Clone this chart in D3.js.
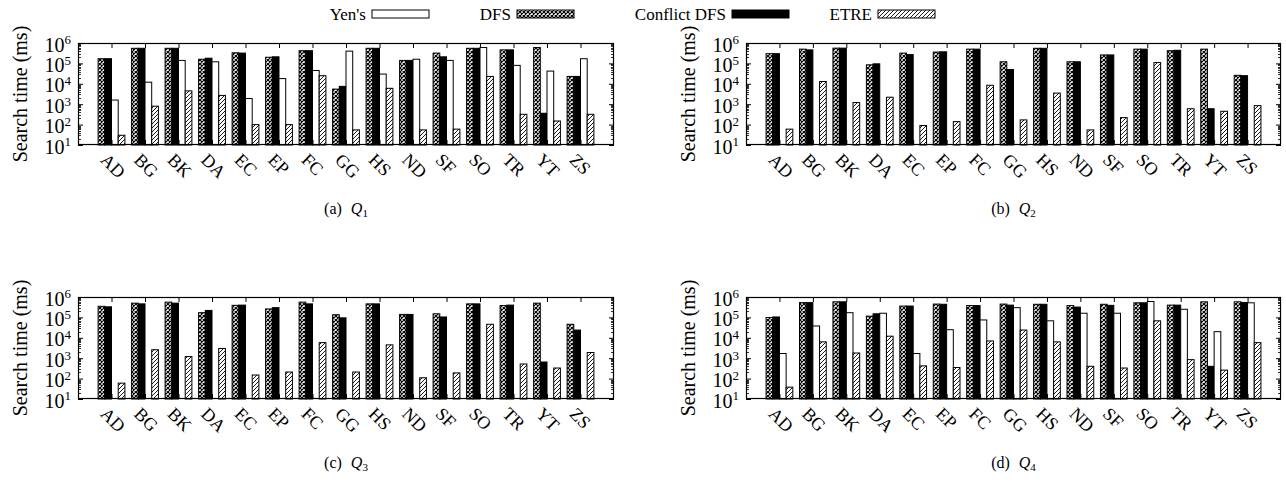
<!DOCTYPE html>
<html>
<head>
<meta charset="utf-8">
<script src="https://cdn.jsdelivr.net/npm/d3@7"></script>
<style>
body { margin: 0; background: #fff; }
text { font-family: "Liberation Serif", "Times New Roman", serif; fill: #000; }
</style>
</head>
<body>
<svg id="chart" width="1286" height="493"></svg>
<script>
// datasets on the x axis
var datasets = ["AD","BG","BK","DA","EC","EP","FC","GG","HS","ND","SF","SO","TR","YT","ZS"];
var seriesNames = ["DFS","Conflict DFS","Yen's","ETRE"];
var yTickValues = [1e1,1e2,1e3,1e4,1e5,1e6];

// search time (ms), null = no bar
var q1_dfs  = [1.7e5,5.5e5,5.5e5,1.6e5,3.3e5,2.0e5,4.2e5,5.5e3,5.5e5,1.4e5,3.2e5,5.5e5,4.6e5,6.0e5,2.3e4];
var q1_cdfs = [1.7e5,5.5e5,5.5e5,1.8e5,3.2e5,2.1e5,4.2e5,7.5e3,5.5e5,1.4e5,2.1e5,5.5e5,4.6e5,360,2.3e4];
var q1_yen  = [1.6e3,1.2e4,1.4e5,1.2e5,1.9e3,1.8e4,4.5e4,4.0e5,3.0e4,1.6e5,1.4e5,6.0e5,8.0e4,4.2e4,1.7e5];
var q1_etre = [30,800,4.5e3,2.7e3,100,100,2.5e4,55,6.0e3,55,60,2.3e4,320,150,320];

var q2_dfs  = [3.0e5,5.0e5,5.6e5,8.5e4,3.2e5,3.6e5,5.0e5,1.2e5,5.5e5,1.2e5,2.6e5,5.0e5,4.2e5,5.0e5,2.6e4];
var q2_cdfs = [3.0e5,4.6e5,5.6e5,9.5e4,2.7e5,3.7e5,5.0e5,5.0e4,5.5e5,1.2e5,2.6e5,5.0e5,4.4e5,600,2.5e4];
var q2_yen  = [null,null,null,null,null,null,null,null,null,null,null,null,null,null,null];
var q2_etre = [60,1.3e4,1.2e3,2.2e3,90,140,8.5e3,170,3.5e3,55,220,1.1e5,600,450,850];

var q3_dfs  = [3.5e5,5.0e5,5.6e5,1.7e5,3.9e5,2.6e5,5.6e5,1.35e5,4.6e5,1.4e5,1.5e5,4.6e5,3.8e5,5.0e5,4.6e4];
var q3_cdfs = [3.3e5,4.6e5,5.0e5,2.2e5,4.0e5,3.0e5,4.6e5,9.5e4,4.6e5,1.4e5,1.05e5,4.6e5,4.0e5,650,2.4e4];
var q3_yen  = [null,null,null,null,null,null,null,null,null,null,null,null,null,null,null];
var q3_etre = [60,2.6e3,1.2e3,3.0e3,150,210,5.8e3,210,4.5e3,110,190,4.6e4,520,330,1.9e3];

var q4_dfs  = [9.8e4,5.3e5,5.8e5,1.15e5,3.6e5,4.5e5,3.8e5,4.5e5,4.4e5,3.8e5,4.4e5,5.2e5,4.0e5,5.8e5,5.8e5];
var q4_cdfs = [1.05e5,5.3e5,5.8e5,1.5e5,3.6e5,4.4e5,3.8e5,4.0e5,4.4e5,3.2e5,3.9e5,5.2e5,4.0e5,400,5.4e5];
var q4_yen  = [1.7e3,3.8e4,1.7e5,1.6e5,1.7e3,2.5e4,7.5e4,3.0e5,6.8e4,1.6e5,1.6e5,6.0e5,2.5e5,2.0e4,5.2e5];
var q4_etre = [38,6.3e3,1.8e3,1.2e4,420,350,7.0e3,2.4e4,6.3e3,400,330,6.8e4,850,260,5.8e3];

var panels = [
    {letter:"a", sub:"1", series:[q1_dfs,q1_cdfs,q1_yen,q1_etre]},
    {letter:"b", sub:"2", series:[q2_dfs,q2_cdfs,q2_yen,q2_etre]},
    {letter:"c", sub:"3", series:[q3_dfs,q3_cdfs,q3_yen,q3_etre]},
    {letter:"d", sub:"4", series:[q4_dfs,q4_cdfs,q4_yen,q4_etre]}
];

const svg = d3.select("#chart");

/** fill patterns (gnuplot style) */
const defs = svg.append("defs");
var pc = defs.append("pattern").attr("id","pat-check")
    .attr("patternUnits","userSpaceOnUse").attr("width",4).attr("height",4);
pc.append("rect").attr("width",4).attr("height",4).attr("fill","#fff");
pc.append("path").attr("d","M0,0L4,4M4,0L0,4").attr("stroke","#000").attr("stroke-width",1.2);
var ph = defs.append("pattern").attr("id","pat-hatch")
    .attr("patternUnits","userSpaceOnUse").attr("width",4).attr("height",4);
ph.append("rect").attr("width",4).attr("height",4).attr("fill","#fff");
ph.append("path").attr("d","M0,4L4,0M-1,1L1,-1M3,5L5,3").attr("stroke","#000").attr("stroke-width",0.9);

var fills = ["url(#pat-check)","#000","#fff","url(#pat-hatch)"];

/** legend */
var legendX = [366, 511, 726, 872]; // right edge of the text
var legendOrder = [2, 0, 1, 3];
var lg = svg.append("g").attr("class","legend");
legendOrder.forEach(function(s, i){
    lg.append("text").attr("x", legendX[i]).attr("y", 20)
      .attr("text-anchor","end").style("font-size","17px").text(seriesNames[s]);
    lg.append("rect").attr("x", legendX[i]+6).attr("y", 10).attr("width", 57).attr("height", 8)
      .attr("fill", fills[s]).attr("stroke","#000").attr("stroke-width",1);
});

var boxes = [
    {x0:78, x1:614, y0:43, y1:145, capY:214},
    {x0:746, x1:1281, y0:43, y1:145, capY:214},
    {x0:78, x1:614, y0:297, y1:399, capY:468},
    {x0:746, x1:1281, y0:297, y1:399, capY:468}
];

panels.forEach(function(p, pi){
    var b = boxes[pi];
    var g = svg.append("g").attr("class","panel_"+p.letter);

    const x = d3.scaleLinear().domain([-1, 15]).range([b.x0, b.x1]);
    const y = d3.scaleLog().domain([1e1, 1e6]).range([b.y1, b.y0]);

    // bars
    p.series.forEach(function(vals, s){
        g.selectAll(".bar_"+s).data(vals.map(function(v,i){ return {i:i, v:v}; }).filter(function(d){ return d.v != null; }))
          .join("rect")
          .attr("class","bar_"+s)
          .attr("x", function(d){ return x(d.i - 0.4 + 0.2*s); })
          .attr("width", function(d){ return x(d.i - 0.2 + 0.2*s) - x(d.i - 0.4 + 0.2*s); })
          .attr("y", function(d){ return y(d.v); })
          .attr("height", function(d){ return y(1e1) - y(d.v); })
          .attr("fill", fills[s])
          .attr("stroke","#000").attr("stroke-width",1);
    });

    // minor ticks (2..9 per decade)
    var minors = [];
    for (var e = 1; e < 6; e++) for (var m = 2; m < 10; m++) minors.push(m*Math.pow(10,e));
    g.selectAll(".minor").data(minors).join("path").attr("class","minor")
      .attr("d", function(d){ var yy = Math.round(y(d))+0.5;
          return "M"+b.x0+","+yy+"h3M"+b.x1+","+yy+"h-3"; })
      .attr("stroke","#000").attr("stroke-width",0.8);

    // y axis left with labels 10^k
    var ya = g.append("g").attr("transform","translate("+b.x0+",0)")
      .call(d3.axisLeft(y).tickValues(yTickValues).tickSize(-5).tickPadding(7).tickFormat(""));
    ya.select(".domain").remove();
    ya.selectAll(".tick text").each(function(d){
        var t = d3.select(this).style("font-size","20px").attr("dy","0.4em");
        t.append("tspan").text("10");
        t.append("tspan").attr("dy","-0.55em").style("font-size","13px").text(Math.round(Math.log10(d)));
    });
    var yr = g.append("g").attr("transform","translate("+b.x1+",0)")
      .call(d3.axisRight(y).tickValues(yTickValues).tickSize(-5).tickFormat(""));
    yr.select(".domain").remove();

    // x axis top and bottom ticks
    var xt = g.append("g").attr("transform","translate(0,"+b.y0+")")
      .call(d3.axisTop(x).tickValues(d3.range(15)).tickSize(-5).tickFormat(""));
    xt.select(".domain").remove();
    var xb = g.append("g").attr("transform","translate(0,"+b.y1+")")
      .call(d3.axisBottom(x).tickValues(d3.range(15)).tickSize(-5).tickFormat(""));
    xb.select(".domain").remove();

    // rotated dataset labels
    g.selectAll(".xlab").data(datasets).join("text").attr("class","xlab")
      .attr("transform", function(d,i){ return "translate("+(x(i)-12)+","+(b.y1+16)+") rotate(45)"; })
      .style("font-size","18px").text(function(d){ return d; });

    // frame
    g.append("rect").attr("x",b.x0+0.5).attr("y",b.y0+0.5)
      .attr("width",b.x1-b.x0-1).attr("height",b.y1-b.y0-1)
      .attr("fill","none").attr("stroke","#000").attr("stroke-width",1.2);

    // y title
    var cy = (b.y0+b.y1)/2;
    g.append("text").attr("transform","translate("+(b.x0-51)+","+cy+") rotate(-90)")
      .attr("text-anchor","middle").style("font-size","20px").text("Search time (ms)");

    // caption
    var cap = g.append("text").attr("x",(b.x0+b.x1)/2).attr("y",b.capY)
      .attr("text-anchor","middle").style("font-size","16px");
    cap.append("tspan").text("("+p.letter+")");
    cap.append("tspan").attr("dx","9").style("font-style","italic").text("Q");
    cap.append("tspan").attr("dy","0.3em").style("font-size","11px").text(p.sub);
});
</script>
</body>
</html>
